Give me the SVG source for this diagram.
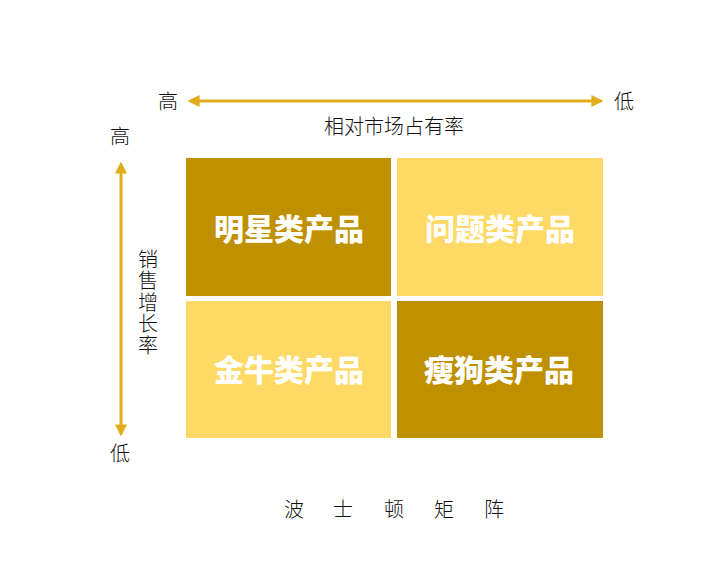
<svg xmlns="http://www.w3.org/2000/svg" width="727" height="584" viewBox="0 0 727 584">
<style>
.ax{font-family:"Noto Sans CJK SC","Liberation Sans",sans-serif;font-weight:300;fill:#111;font-size:20px}
.bx{font-family:"Noto Sans CJK SC","Liberation Sans",sans-serif;font-weight:900;fill:#fff;font-size:30px;text-anchor:middle}
.dark{fill:#BF9000}
.light{fill:#FFD966}
.ln{stroke:#E0AE1C;stroke-width:3;fill:none}
</style>
<defs>
<marker id="ah" viewBox="0 0 10 10" refX="8" refY="5" markerWidth="4" markerHeight="4" orient="auto-start-reverse">
<path d="M0,0 L10,5 L0,10 z" fill="#E0AE1C"/>
</marker>
</defs>
<rect width="727" height="584" fill="#fff"/>
<g id="connectors">
<line class="ln" x1="190" y1="101" x2="601" y2="101" marker-start="url(#ah)" marker-end="url(#ah)"/>
<line class="ln" x1="121" y1="164" x2="121" y2="434" marker-start="url(#ah)" marker-end="url(#ah)"/>
</g>
<g id="labels">
<text class="ax" x="168" y="109" text-anchor="middle">高</text>
<text class="ax" x="624" y="109" text-anchor="middle">低</text>
<text class="ax" x="394" y="134" text-anchor="middle" font-size="20.5">相对市场占有率</text>
<text class="ax" x="120" y="144" text-anchor="middle">高</text>
<text class="ax" x="120" y="461" text-anchor="middle">低</text>
<text class="ax" x="148" y="249" writing-mode="vertical-rl" letter-spacing="1.5">销售增长率</text>
</g>
<g id="star">
<rect class="dark" x="186" y="158" width="205" height="138"/>
<text class="bx" x="289" y="240">明星类产品</text>
</g>
<g id="question">
<rect class="light" x="397" y="158" width="206" height="138"/>
<text class="bx" x="500" y="240">问题类产品</text>
</g>
<g id="cashcow">
<rect class="light" x="186" y="301" width="205" height="137"/>
<text class="bx" x="289" y="381">金牛类产品</text>
</g>
<g id="dog">
<rect class="dark" x="397" y="301" width="206" height="137"/>
<text class="bx" x="499" y="381">瘦狗类产品</text>
</g>
<g id="title">
<text class="ax" font-size="25" text-anchor="middle" y="517"><tspan x="294">波</tspan><tspan x="343">士</tspan><tspan x="394">顿</tspan><tspan x="444">矩</tspan><tspan x="494">阵</tspan></text>
</g>
</svg>
